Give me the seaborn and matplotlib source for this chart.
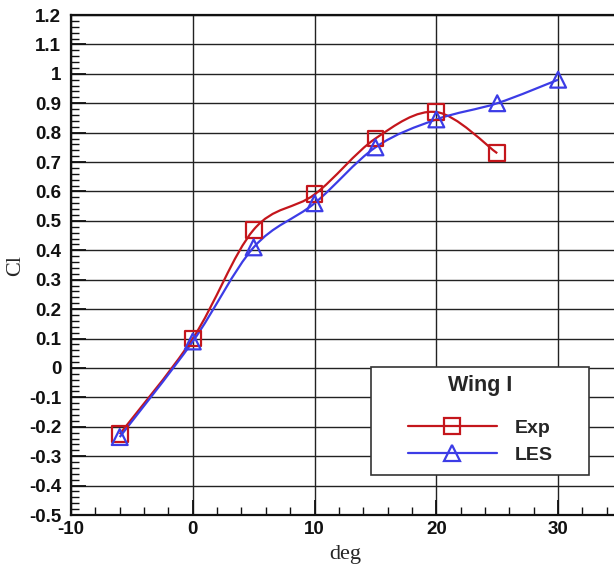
import numpy as np
import pandas as pd
import matplotlib
matplotlib.use("Agg")
import matplotlib.pyplot as plt
from matplotlib.path import Path
from matplotlib.patches import PathPatch, Rectangle
from matplotlib.lines import Line2D
from matplotlib.ticker import MultipleLocator, FuncFormatter
import seaborn as sns

# Lift coefficient versus angle of attack
exp_deg = [-6, 0, 5, 10, 15, 20, 25]
exp_cl = [-0.225, 0.10, 0.47, 0.59, 0.78, 0.87, 0.73]
les_deg = [-6, 0, 5, 10, 15, 20, 25, 30]
les_cl = [-0.235, 0.09, 0.41, 0.56, 0.75, 0.845, 0.90, 0.98]

legend_title = "Wing I"
series_names = ["Exp", "LES"]
x_label = "deg"
y_label = "Cl"

RED = "#c4161c"
BLUE = "#3c3ce6"

sns.set_theme(style="white")
plt.rcParams["font.family"] = ["Liberation Sans", "DejaVu Sans"]
plt.rcParams["axes.unicode_minus"] = False

df = pd.concat([
    pd.DataFrame({"deg": exp_deg, "cl": exp_cl, "src": series_names[0]}),
    pd.DataFrame({"deg": les_deg, "cl": les_cl, "src": series_names[1]}),
])

fig = plt.figure(figsize=(6.14, 5.65), dpi=100)
ax = fig.add_axes([71 / 614, 50 / 565, 548 / 614, 500 / 565])


def smooth_path(xs, ys):
    """Catmull-Rom spline through the points, expressed as cubic Bezier segments."""
    p = np.column_stack([xs, ys]).astype(float)
    ext = np.vstack([p[0], p, p[-1]])
    verts = [p[0]]
    codes = [Path.MOVETO]
    for i in range(len(p) - 1):
        p0, p1, p2, p3 = ext[i], ext[i + 1], ext[i + 2], ext[i + 3]
        c1 = p1 + (p2 - p0) / 6.0
        c2 = p2 - (p3 - p1) / 6.0
        verts += [c1, c2, p2]
        codes += [Path.CURVE4] * 3
    return Path(verts, codes)


for (xs, ys, col) in [(exp_deg, exp_cl, RED), (les_deg, les_cl, BLUE)]:
    ax.add_patch(PathPatch(smooth_path(xs, ys), facecolor="none", edgecolor=col,
                           lw=1.6, zorder=3, transform=ax.transData))

sns.scatterplot(data=df, x="deg", y="cl", hue="src", style="src",
                palette={series_names[0]: RED, series_names[1]: BLUE},
                markers={series_names[0]: "s", series_names[1]: "^"},
                s=130, linewidth=1.6, legend=False, ax=ax, zorder=4)
# open markers: edge colour from the palette, hollow face
for coll in ax.collections:
    fc = coll.get_facecolors()
    coll.set_edgecolors(fc)
    coll.set_facecolor("none")

ax.set_xlim(-10, 35)
ax.set_ylim(-0.5, 1.2)
ax.xaxis.set_major_locator(MultipleLocator(10))
ax.xaxis.set_minor_locator(MultipleLocator(2))
ax.yaxis.set_major_locator(MultipleLocator(0.1))
ax.yaxis.set_minor_locator(MultipleLocator(0.02))


def fmt(v, pos):
    s = f"{v:.1f}"
    if s.endswith(".0"):
        s = s[:-2]
    if s == "-0":
        s = "0"
    return s


ax.xaxis.set_major_formatter(FuncFormatter(fmt))
ax.yaxis.set_major_formatter(FuncFormatter(fmt))
ax.grid(True, which="major", color="#222222", lw=1.0)
ax.set_axisbelow(True)
ax.tick_params(axis="both", which="major", direction="in", length=11, width=1.3,
               color="#111111", labelsize=13.5, labelcolor="#111111")
ax.tick_params(axis="both", which="minor", direction="in", length=6, width=1.0,
               color="#111111")
ax.tick_params(axis="y", which="both", left=True, pad=7)
ax.tick_params(axis="x", which="both", bottom=True, pad=4)
for lab in ax.get_xticklabels() + ax.get_yticklabels():
    lab.set_fontweight("bold")
for sp in ax.spines.values():
    sp.set_color("#111111")
    sp.set_linewidth(1.6)

ax.set_xlabel(x_label, family="Liberation Serif", fontsize=16, labelpad=5)
ax.set_ylabel(y_label, family="Liberation Serif", fontsize=16, labelpad=3)

# legend box
box = Rectangle((371 / 614, 1 - 475 / 565), 218 / 614, 108 / 565,
                transform=fig.transFigure, facecolor="white", edgecolor="#333333",
                lw=1.2, zorder=10)
fig.patches.append(box)
handles = [Line2D([], [], color=RED, lw=1.6, marker="s", ms=11, mfc="none", mew=1.6),
           Line2D([], [], color=BLUE, lw=1.6, marker="^", ms=11, mfc="none", mew=1.6)]
leg = fig.legend(handles, series_names, title=legend_title, loc="upper center",
                 bbox_to_anchor=(480 / 614, 1 - 357 / 565), frameon=False,
                 handlelength=4.6, handletextpad=0.9, labelspacing=0.5,
                 prop={"weight": "bold", "size": 14},
                 title_fontproperties={"weight": "bold", "size": 15.5})
leg.set_zorder(11)
leg._legend_box.align = "center"
leg._legend_box.sep = 17

fig.savefig("out.png", dpi=100)
